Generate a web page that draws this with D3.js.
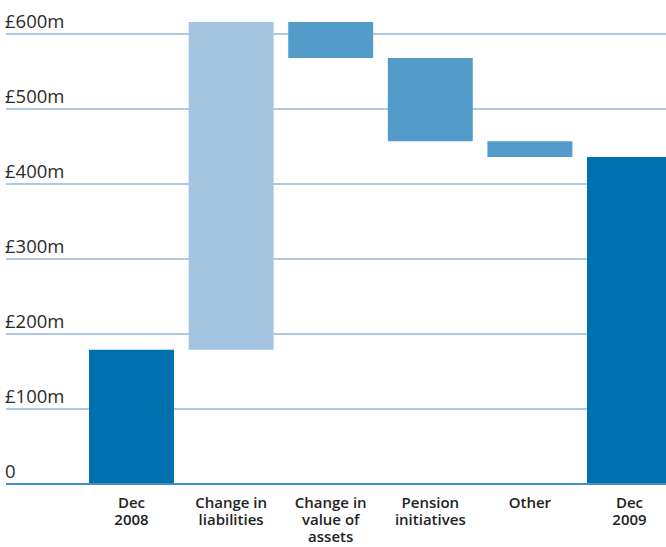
<!DOCTYPE html>
<html>
<head>
<meta charset="utf-8">
<script src="https://cdn.jsdelivr.net/npm/d3@7"></script>
<style>
  html, body { margin: 0; padding: 0; background: #fff; }
  svg { display: block; }
  .ylab { font-family: "Open Sans", "Noto Sans", sans-serif; font-size: 18.5px; fill: #2b2b2b; }
  .xlab { font-family: "Open Sans", "Noto Sans", sans-serif; font-size: 15px; font-weight: 600; fill: #222; }
</style>
</head>
<body>
<svg id="chart" width="666" height="547"></svg>
<script>
// Pension deficit bridge, Dec 2008 to Dec 2009 (£m)
const categories = ["Dec 2008", "Change in liabilities", "Change in value of assets", "Pension initiatives", "Other", "Dec 2009"];
const labelLines = [["Dec", "2008"], ["Change in", "liabilities"], ["Change in", "value of", "assets"], ["Pension", "initiatives"], ["Other"], ["Dec", "2009"]];
const kinds = ["total", "increase", "decrease", "decrease", "decrease", "total"];
const values = [179, 437, -48, -111, -21, 436];
const yTicks = [0, 100, 200, 300, 400, 500, 600];
const yTickLabels = ["0", "£100m", "£200m", "£300m", "£400m", "£500m", "£600m"];

const colors = { total: "#0071af", increase: "#a3c4e1", decrease: "#539cc9" };

const svg = d3.select("#chart");

const y = d3.scaleLinear().domain([0, 600]).range([484, 34]);
const x = d3.scaleBand()
  .domain(categories)
  .range([81.7, 679.3])
  .paddingInner(0.147)
  .paddingOuter(0.0735);

// Waterfall segments
let running = 0;
const segs = categories.map((c, i) => {
  let lo, hi;
  if (kinds[i] === "total") { lo = 0; hi = values[i]; running = values[i]; }
  else { const next = running + values[i]; lo = Math.min(running, next); hi = Math.max(running, next); running = next; }
  return { c, lo, hi, kind: kinds[i] };
});

// Gridlines
svg.append("g").selectAll("line")
  .data(yTicks.filter(d => d > 0))
  .join("line")
  .attr("x1", 6).attr("x2", 666)
  .attr("y1", d => y(d)).attr("y2", d => y(d))
  .attr("stroke", "#a9c9e4").attr("stroke-width", 2);

// Tick labels
svg.append("g").selectAll("text")
  .data(yTicks)
  .join("text")
  .attr("class", "ylab")
  .attr("x", 5)
  .attr("y", d => y(d) - 6)
  .text((d, i) => yTickLabels[i]);

// Bars
svg.append("g").selectAll("rect")
  .data(segs)
  .join("rect")
  .attr("x", d => x(d.c))
  .attr("width", x.bandwidth())
  .attr("y", d => y(d.hi))
  .attr("height", d => y(d.lo) - y(d.hi))
  .attr("fill", d => colors[d.kind]);

// Baseline
svg.append("line")
  .attr("x1", 6).attr("x2", 666)
  .attr("y1", y(0)).attr("y2", y(0))
  .attr("stroke", "#3f8fc5").attr("stroke-width", 2);

// Category labels, one text per line
const lines = [];
categories.forEach((c, i) => labelLines[i].forEach((ln, k) => lines.push({ c, ln, k })));
svg.append("g").selectAll("text")
  .data(lines)
  .join("text")
  .attr("class", "xlab")
  .attr("text-anchor", "middle")
  .attr("x", d => x(d.c) + x.bandwidth() / 2)
  .attr("y", d => 508 + d.k * 17)
  .text(d => d.ln);
</script>
</body>
</html>
